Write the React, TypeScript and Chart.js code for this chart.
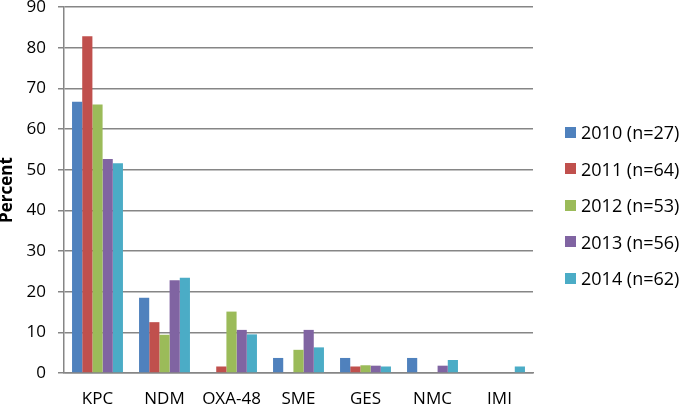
import React, { useEffect, useRef } from "react";
import { Chart, registerables } from "chart.js";

Chart.register(...registerables);

const categories = ["KPC", "NDM", "OXA-48", "SME", "GES", "NMC", "IMI"];
const seriesLabels = ["2010 (n=27)", "2011 (n=64)", "2012 (n=53)", "2013 (n=56)", "2014 (n=62)"];
const seriesColors = ["#4F81BD", "#C0504D", "#9BBB59", "#8064A2", "#4BACC6"];
const values2010 = [66.7, 18.5, 0, 3.7, 3.7, 3.7, 0];
const values2011 = [82.8, 12.5, 1.6, 0, 1.6, 0, 0];
const values2012 = [66.0, 9.4, 15.1, 5.7, 1.9, 0, 0];
const values2013 = [52.6, 22.8, 10.6, 10.6, 1.8, 1.8, 0];
const values2014 = [51.6, 23.4, 9.5, 6.3, 1.6, 3.2, 1.6];
const seriesValues = [values2010, values2011, values2012, values2013, values2014];
const yTicks = [0, 10, 20, 30, 40, 50, 60, 70, 80, 90];

const FONT = "'Open Sans', 'Noto Sans', sans-serif";
const GRID = "#868686";

export default function App() {
  const canvasRef = useRef<HTMLCanvasElement>(null);

  useEffect(() => {
    document.body.style.margin = "0";
    const ctx = canvasRef.current!;
    const chart = new Chart(ctx, {
      type: "bar",
      data: {
        labels: categories,
        datasets: seriesValues.map((vals, i) => ({
          label: seriesLabels[i],
          data: vals,
          backgroundColor: seriesColors[i],
          borderWidth: 0,
          categoryPercentage: 0.76,
          barPercentage: 1,
        })),
      },
      options: {
        animation: false,
        responsive: false,
        maintainAspectRatio: false,
        layout: { padding: { left: 0, top: 0, right: 147, bottom: 0 } },
        plugins: {
          legend: { display: false },
          tooltip: { enabled: false },
        },
        scales: {
          x: {
            grid: { display: false, drawTicks: false },
            border: { display: true, color: GRID, width: 1.5 },
            ticks: {
              color: "#000",
              font: { family: FONT, size: 17 },
              padding: 16,
              maxRotation: 0,
              autoSkip: false,
            },
            afterFit: (s: any) => {
              s.height = 33;
            },
          },
          y: {
            min: 0,
            max: 90,
            afterBuildTicks: (s: any) => {
              s.ticks = yTicks.map((v) => ({ value: v }));
            },
            grid: {
              color: GRID,
              lineWidth: 1.5,
              drawTicks: true,
              tickLength: 6,
            },
            border: { display: true, color: GRID, width: 1.5 },
            ticks: {
              color: "#000",
              font: { family: FONT, size: 17 },
              padding: 12,
            },
            title: {
              display: true,
              text: "Percent",
              color: "#000",
              font: { family: FONT, size: 17, weight: "bold", lineHeight: 0.9 },
              padding: 0,
            },
            afterFit: (s: any) => {
              s.width = 64;
              s.paddingTop = 7;
              s.paddingBottom = 0;
            },
          },
        },
      },
    });
    return () => chart.destroy();
  }, []);

  return (
    <div style={{ position: "relative", width: 680, height: 406 }}>
      <canvas ref={canvasRef} width={680} height={406} style={{ display: "block" }} />
      <div
        style={{
          position: "absolute",
          left: 565,
          top: 113.75,
          fontFamily: FONT,
          fontSize: 18,
          color: "#000",
        }}
      >
        {seriesLabels.map((lab, i) => (
          <div
            key={lab}
            style={{ display: "flex", alignItems: "center", height: 36.5, whiteSpace: "nowrap" }}
          >
            <span
              style={{
                display: "inline-block",
                width: 11,
                height: 11,
                background: seriesColors[i],
                marginRight: 5,
              }}
            />
            <span>{lab}</span>
          </div>
        ))}
      </div>
    </div>
  );
}
